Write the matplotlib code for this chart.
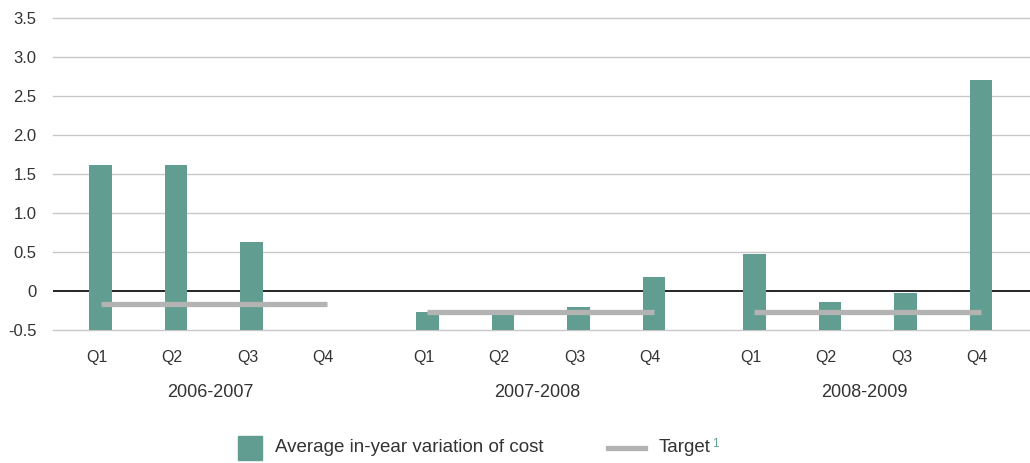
import numpy as np
import matplotlib
matplotlib.use("Agg")
import matplotlib.pyplot as plt
from matplotlib.patches import Rectangle
from matplotlib.lines import Line2D

years = ["2006-2007", "2007-2008", "2008-2009"]
quarters = ["Q1", "Q2", "Q3", "Q4"]
variation = [
    [1.62, 1.62, 0.63, np.nan],
    [-0.27, -0.29, -0.21, 0.18],
    [0.48, -0.14, -0.02, 2.71],
]
target = [-0.16, -0.27, -0.27]
yticks = [-0.5, 0, 0.5, 1.0, 1.5, 2.0, 2.5, 3.0, 3.5]
ytick_labels = ["-0.5", "0", "0.5", "1.0", "1.5", "2.0", "2.5", "3.0", "3.5"]

green = "#619e91"
grey = "#b3b3b3"
txt = "#333333"
plt.rcParams["font.family"] = ["Liberation Sans", "DejaVu Sans"]

fig = plt.figure(figsize=(10.3, 4.63), dpi=100)
ax = fig.add_axes([53 / 1030, 1 - 330 / 463, 1 - 53 / 1030, (330 - 18.3) / 463])

base = -0.5
group_step = 4.33
shift = 0.05
for g, yr in enumerate(years):
    xs = np.arange(4) + g * group_step
    vals = np.array(variation[g])
    ax.bar(xs + shift, vals - base, bottom=base, width=0.3, color=green, zorder=3)
    ax.plot([xs[0] + shift, xs[-1] + shift], [target[g], target[g]], color=grey,
            lw=3.8, solid_capstyle="butt", zorder=4)
    for x, q in zip(xs, quarters):
        ax.text(x, -0.85, q, ha="center", va="center", fontsize=11.5, color=txt)
    ax.text(xs.mean(), -1.3, yr, ha="center", va="center", fontsize=13, color=txt)

ax.set_xlim(-0.58, 12.36)
ax.set_ylim(-0.5, 3.5)
ax.set_yticks(yticks)
ax.set_yticklabels(ytick_labels, fontsize=12, color=txt)
ax.set_xticks([])
ax.tick_params(axis="y", length=0, pad=12)
for y in yticks:
    if y == 0:
        ax.axhline(y, color="black", lw=1.2, zorder=2)
    else:
        ax.axhline(y, color="#c8c8c8", lw=1, zorder=1, clip_on=False)
for s in ax.spines.values():
    s.set_visible(False)

# legend
fig.add_artist(Rectangle((238 / 1030, 1 - 460 / 463), 24 / 1030, 24 / 463,
                         transform=fig.transFigure, color=green))
fig.text(275 / 1030, 1 - 448 / 463, "Average in-year variation of cost",
         va="center", fontsize=13.5, color=txt)
fig.add_artist(Line2D([608 / 1030, 645 / 1030], [1 - 448 / 463] * 2,
                      transform=fig.transFigure, color=grey, lw=3.8))
t = fig.text(659 / 1030, 1 - 448 / 463, "Target", va="center", fontsize=13.5,
             color=txt)
fig.canvas.draw()
bb = t.get_window_extent()
fig.text(bb.x1 / 1030 + 0.001, 1 - 438 / 463, "1", va="top",
         fontsize=8.5, color=green)

fig.savefig("out.png", dpi=100)
